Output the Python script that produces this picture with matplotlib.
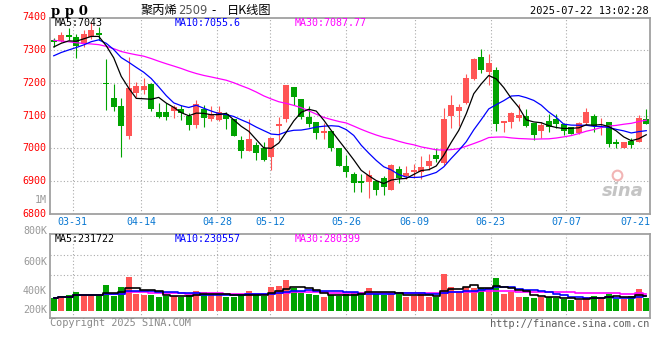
import matplotlib
matplotlib.use('Agg')
import matplotlib.pyplot as plt
import numpy as np
import pandas as pd

# ---------------- data ----------------
dates = ['03-26','03-27','03-28','03-31','04-01','04-02','04-03','04-07','04-08','04-09',
         '04-10','04-11','04-14','04-15','04-16','04-17','04-18','04-21','04-22','04-23',
         '04-24','04-25','04-28','04-29','04-30','05-06','05-07','05-08','05-09','05-12',
         '05-13','05-14','05-15','05-16','05-19','05-20','05-21','05-22','05-23','05-26',
         '05-27','05-28','05-29','05-30','06-03','06-04','06-05','06-06','06-09','06-10',
         '06-11','06-12','06-13','06-16','06-17','06-18','06-19','06-20','06-23','06-24',
         '06-25','06-26','06-27','06-30','07-01','07-02','07-03','07-04','07-07','07-08',
         '07-09','07-10','07-11','07-14','07-15','07-16','07-17','07-18','07-21','07-22']

opens = [7332,7328,7346,7339,7318,7339,7354,7200,7153,7130,
         7037,7170,7178,7198,7112,7112,7115,7120,7100,7072,
         7120,7090,7086,7105,7090,7025,6993,7010,7000,6974,
         7069,7089,7188,7150,7097,7081,7046,7053,7002,6947,
         6922,6901,6898,6901,6908,6873,6937,6915,6929,6929,
         6946,6979,6954,7100,7115,7140,7212,7278,7234,7239,
         7078,7081,7094,7100,7078,7054,7085,7089,7074,7064,
         7046,7078,7099,7061,7080,7020,7000,7023,7020,7091]
highs = [7338,7356,7369,7350,7361,7386,7371,7272,7198,7155,
         7278,7203,7215,7200,7138,7138,7134,7132,7107,7148,
         7132,7130,7130,7110,7090,7038,7089,7020,7020,7031,
         7096,7193,7188,7150,7130,7081,7079,7053,7002,6980,
         6929,6922,6934,6901,6917,6951,6947,6947,6952,6977,
         6982,7002,7124,7163,7137,7226,7277,7305,7287,7249,
         7083,7112,7137,7120,7078,7081,7105,7105,7079,7064,
         7081,7124,7105,7093,7080,7030,7018,7032,7102,7120]
lows = [7310,7326,7330,7275,7310,7334,7332,7117,7115,6974,
        7030,7158,7167,7115,7092,7088,7093,7087,7055,7061,
        7065,7085,7083,7060,7038,6972,6993,6964,6962,6933,
        7025,7081,7133,7090,7066,7028,7030,6992,6947,6913,
        6868,6868,6847,6856,6858,6873,6893,6906,6908,6906,
        6934,6959,6949,7063,7069,7137,7209,7229,7193,7053,
        7051,7063,7083,7066,7025,7032,7049,7061,7041,7043,
        7043,7071,7051,7041,7005,7002,7000,7000,7018,7075]
closes = [7326,7346,7339,7312,7351,7363,7346,7196,7127,7068,
          7183,7190,7190,7120,7096,7096,7125,7109,7072,7137,
          7092,7104,7112,7090,7038,6993,7028,6985,6964,7031,
          7073,7193,7158,7097,7076,7046,7054,7000,6947,6929,
          6895,6893,6918,6873,6883,6949,6910,6926,6934,6942,
          6962,6967,7089,7132,7125,7216,7273,7239,7261,7073,
          7083,7109,7102,7069,7041,7071,7064,7074,7053,7045,
          7078,7110,7068,7063,7014,7012,7018,7010,7093,7075]
volumes = [210000,221000,253000,300000,253000,237000,253000,411000,237000,379000,
           542000,269000,253000,253000,226000,237000,237000,226000,253000,316000,
           300000,253000,253000,226000,226000,269000,316000,253000,237000,379000,
           395000,490000,359000,280000,269000,253000,226000,253000,237000,264000,
           305000,305000,368000,269000,253000,284000,264000,226000,242000,284000,
           226000,226000,585000,384000,305000,384000,368000,368000,368000,526000,
           269000,295000,226000,226000,210000,226000,216000,200000,190000,174000,
           179000,226000,237000,226000,269000,190000,190000,242000,348000,210000]
# estimated closes of the 29 sessions before the visible window (needed for MA lines)
prior_closes = [7420,7405,7398,7415,7412,7410,
                7352,7340,7328,7345,7330,7318,7336,7342,7325,7338,7330,7322,7349,
                7268,7245,7262,7238,7270,7265,7290,7302,7318,7314]

tick_dates = ['03-31','04-14','04-28','05-12','05-26','06-09','06-23','07-07']
last_tick_date = '07-21'
price_levels = [7400, 7300, 7200, 7100, 7000, 6900, 6800]
price_header = ['MA5:7043', 'MA10:7055.6', 'MA30:7087.77']
vol_header = ['MA5:231722', 'MA10:230557', 'MA30:280399']
vol_axis_labels = ['1M', '800K', '600K', '400K', '200K']

# ---------------- style ----------------
W, H = 660, 360
RED = '#ff5555'
GREEN = '#00a300'
GRID = '#aaaaaa'
FRAME = '#a0a0a0'
DATEC = '#0a78d2'
MONO = 'DejaVu Sans Mono'
FS = 7.2

def fx(px):
    return px / W

def fy(py):
    return 1 - py / H

fig = plt.figure(figsize=(6.6, 3.6), dpi=100)
fig.patch.set_facecolor('white')

n = len(dates)
x = np.arange(n)
o = np.array(opens, float)
c = np.array(closes, float)
hi = np.array(highs, float)
lo = np.array(lows, float)
up = c >= o
cols = [RED if u else GREEN for u in up]

allc = pd.Series(prior_closes + closes, dtype=float)
ma = {k: allc.rolling(k).mean().values[len(prior_closes):] for k in (5, 10, 30)}

# grid positions: sina places date gridlines on a 79-interval grid over the panel
tick_idx = [dates.index(d) for d in tick_dates]
tick_pos = [d * n / (n - 1) - 0.5 for d in tick_idx]

# ---------------- price panel ----------------
top_px, bot_px = 17.5, 213.8
ax = fig.add_axes([fx(50), fy(bot_px), 600 / W, (bot_px - top_px) / H])
ax.set_xlim(-0.5, n - 0.5)
ax.set_ylim(6800, 7400)
for s in ax.spines.values():
    s.set_color(FRAME)
    s.set_linewidth(1.3)
ax.set_xticks([]); ax.set_yticks([])
for v in price_levels[1:-1]:
    ax.axhline(v, color=GRID, lw=0.8, ls=(0, (1, 2)), zorder=0)
for t in tick_pos:
    ax.axvline(t, color=GRID, lw=0.8, ls=(0, (1, 2)), zorder=0)

bw = 0.78
ax.vlines(x, lo, hi, colors=cols, lw=0.8, zorder=2)
body_h = np.maximum(np.abs(c - o), 2.5)
ax.bar(x, body_h, bottom=np.minimum(o, c), width=bw, color=cols, lw=0, zorder=3)

ax.plot(x, ma[30], color='#ff00ff', lw=0.9, zorder=4)
ax.plot(x, ma[10], color='#0000ff', lw=0.9, zorder=4)
ax.plot(x, ma[5], color='black', lw=0.9, zorder=5)

ytr = ax.get_yaxis_transform()
for v in price_levels:
    ax.text(-0.006, v, str(v), transform=ytr, ha='right', va='center',
            color='red', family=MONO, fontsize=FS, clip_on=False)

xtr = ax.get_xaxis_transform()
lab_y = -(221.7 - bot_px) / (bot_px - top_px)
for t, d in zip(tick_pos, tick_dates):
    ax.text(t, lab_y, d, transform=xtr, ha='center', va='center', color=DATEC,
            family=MONO, fontsize=FS, clip_on=False)
ax.text(1.0, lab_y, last_tick_date, transform=ax.transAxes, ha='right', va='center',
        color=DATEC, family=MONO, fontsize=FS, clip_on=False)

# header inside price panel
for txt, px, col in zip(price_header, [55, 175, 295], ['black', '#0000ff', '#ff00ff']):
    fig.text(fx(px), fy(23), txt, ha='left', va='center', color=col,
             family=MONO, fontsize=FS)

# sina watermark
ax.text(0.955, 0.115, 'sina', transform=ax.transAxes, ha='center', va='center',
        fontsize=13, fontweight='bold', style='italic', color='#c4c4c4', zorder=1)
ax.plot([0.945], [0.2], marker='o', ms=7, mfc='none', mec='#f2b5b5', mew=1.5,
        transform=ax.transAxes, zorder=1)

# ---------------- volume panel ----------------
vtop, vbase, vbot = 234.3, 311.0, 318.0
per_px = 15800.0
vax = fig.add_axes([fx(50), fy(vbot), 600 / W, (vbot - vtop) / H])
vax.set_xlim(-0.5, n - 0.5)
vax.set_ylim(-(vbot - vbase) * per_px, (vbase - vtop) * per_px)
for s in vax.spines.values():
    s.set_color(FRAME)
    s.set_linewidth(1.3)
vax.set_xticks([]); vax.set_yticks([])
for gp in (255, 275):
    vax.axhline((vbase - gp) * per_px, color=GRID, lw=0.8, ls=(0, (1, 2)), zorder=0)
for t in tick_pos:
    vax.axvline(t, color=GRID, lw=0.8, ls=(0, (1, 2)), zorder=0)

vol = pd.Series(volumes, dtype=float)
vax.bar(x, vol.values, width=bw, color=cols, lw=0, zorder=2)
for k, col in ((30, '#ff00ff'), (10, '#0000ff'), (5, 'black')):
    vax.plot(x, vol.rolling(k, min_periods=1).mean().values, color=col, lw=1.2,
             drawstyle='steps-mid', zorder=3)

for txt, px, col in zip(vol_header, [55, 175, 295], ['black', '#0000ff', '#ff00ff']):
    fig.text(fx(px), fy(238.5), txt, ha='left', va='center', color=col,
             family=MONO, fontsize=FS)

for txt, py in zip(vol_axis_labels, [200, 230.7, 261.7, 290.7, 310]):
    fig.text(fx(47), fy(py), txt, ha='right', va='center', color='#999999',
             family=MONO, fontsize=FS)

# ---------------- top header & footer ----------------
fig.text(fx(51), fy(11.5), 'p p 0', ha='left', va='center', family='DejaVu Serif',
         fontweight='bold', fontsize=9.5, color='black')
cjk = ['Noto Sans CJK SC', 'DejaVu Sans']
fig.text(fx(141), fy(10.5), '聚丙烯', ha='left', va='center', family=cjk,
         fontsize=8.8, color='black')
fig.text(fx(178), fy(11), '2509', ha='left', va='center', family='DejaVu Sans',
         fontsize=8.3, color='#555555')
fig.text(fx(211), fy(10.5), '-', ha='left', va='center', family=cjk,
         fontsize=8.8, color='black')
fig.text(fx(227), fy(10.5), '日K线图', ha='left', va='center', family=cjk,
         fontsize=8.8, color='black')
fig.text(fx(649), fy(11.5), '2025-07-22 13:02:28', ha='right', va='center',
         family=MONO, fontsize=FS + 0.3, color='black')

fig.text(fx(50), fy(323.5), 'Copyright 2025 SINA.COM', ha='left', va='center',
         family=MONO, fontsize=FS + 0.2, color='#8a8a8a')
fig.text(fx(649), fy(324), 'http://finance.sina.com.cn', ha='right', va='center',
         family=MONO, fontsize=FS + 0.2, color='#606060')

fig.savefig('out.png', dpi=100, facecolor='white')
